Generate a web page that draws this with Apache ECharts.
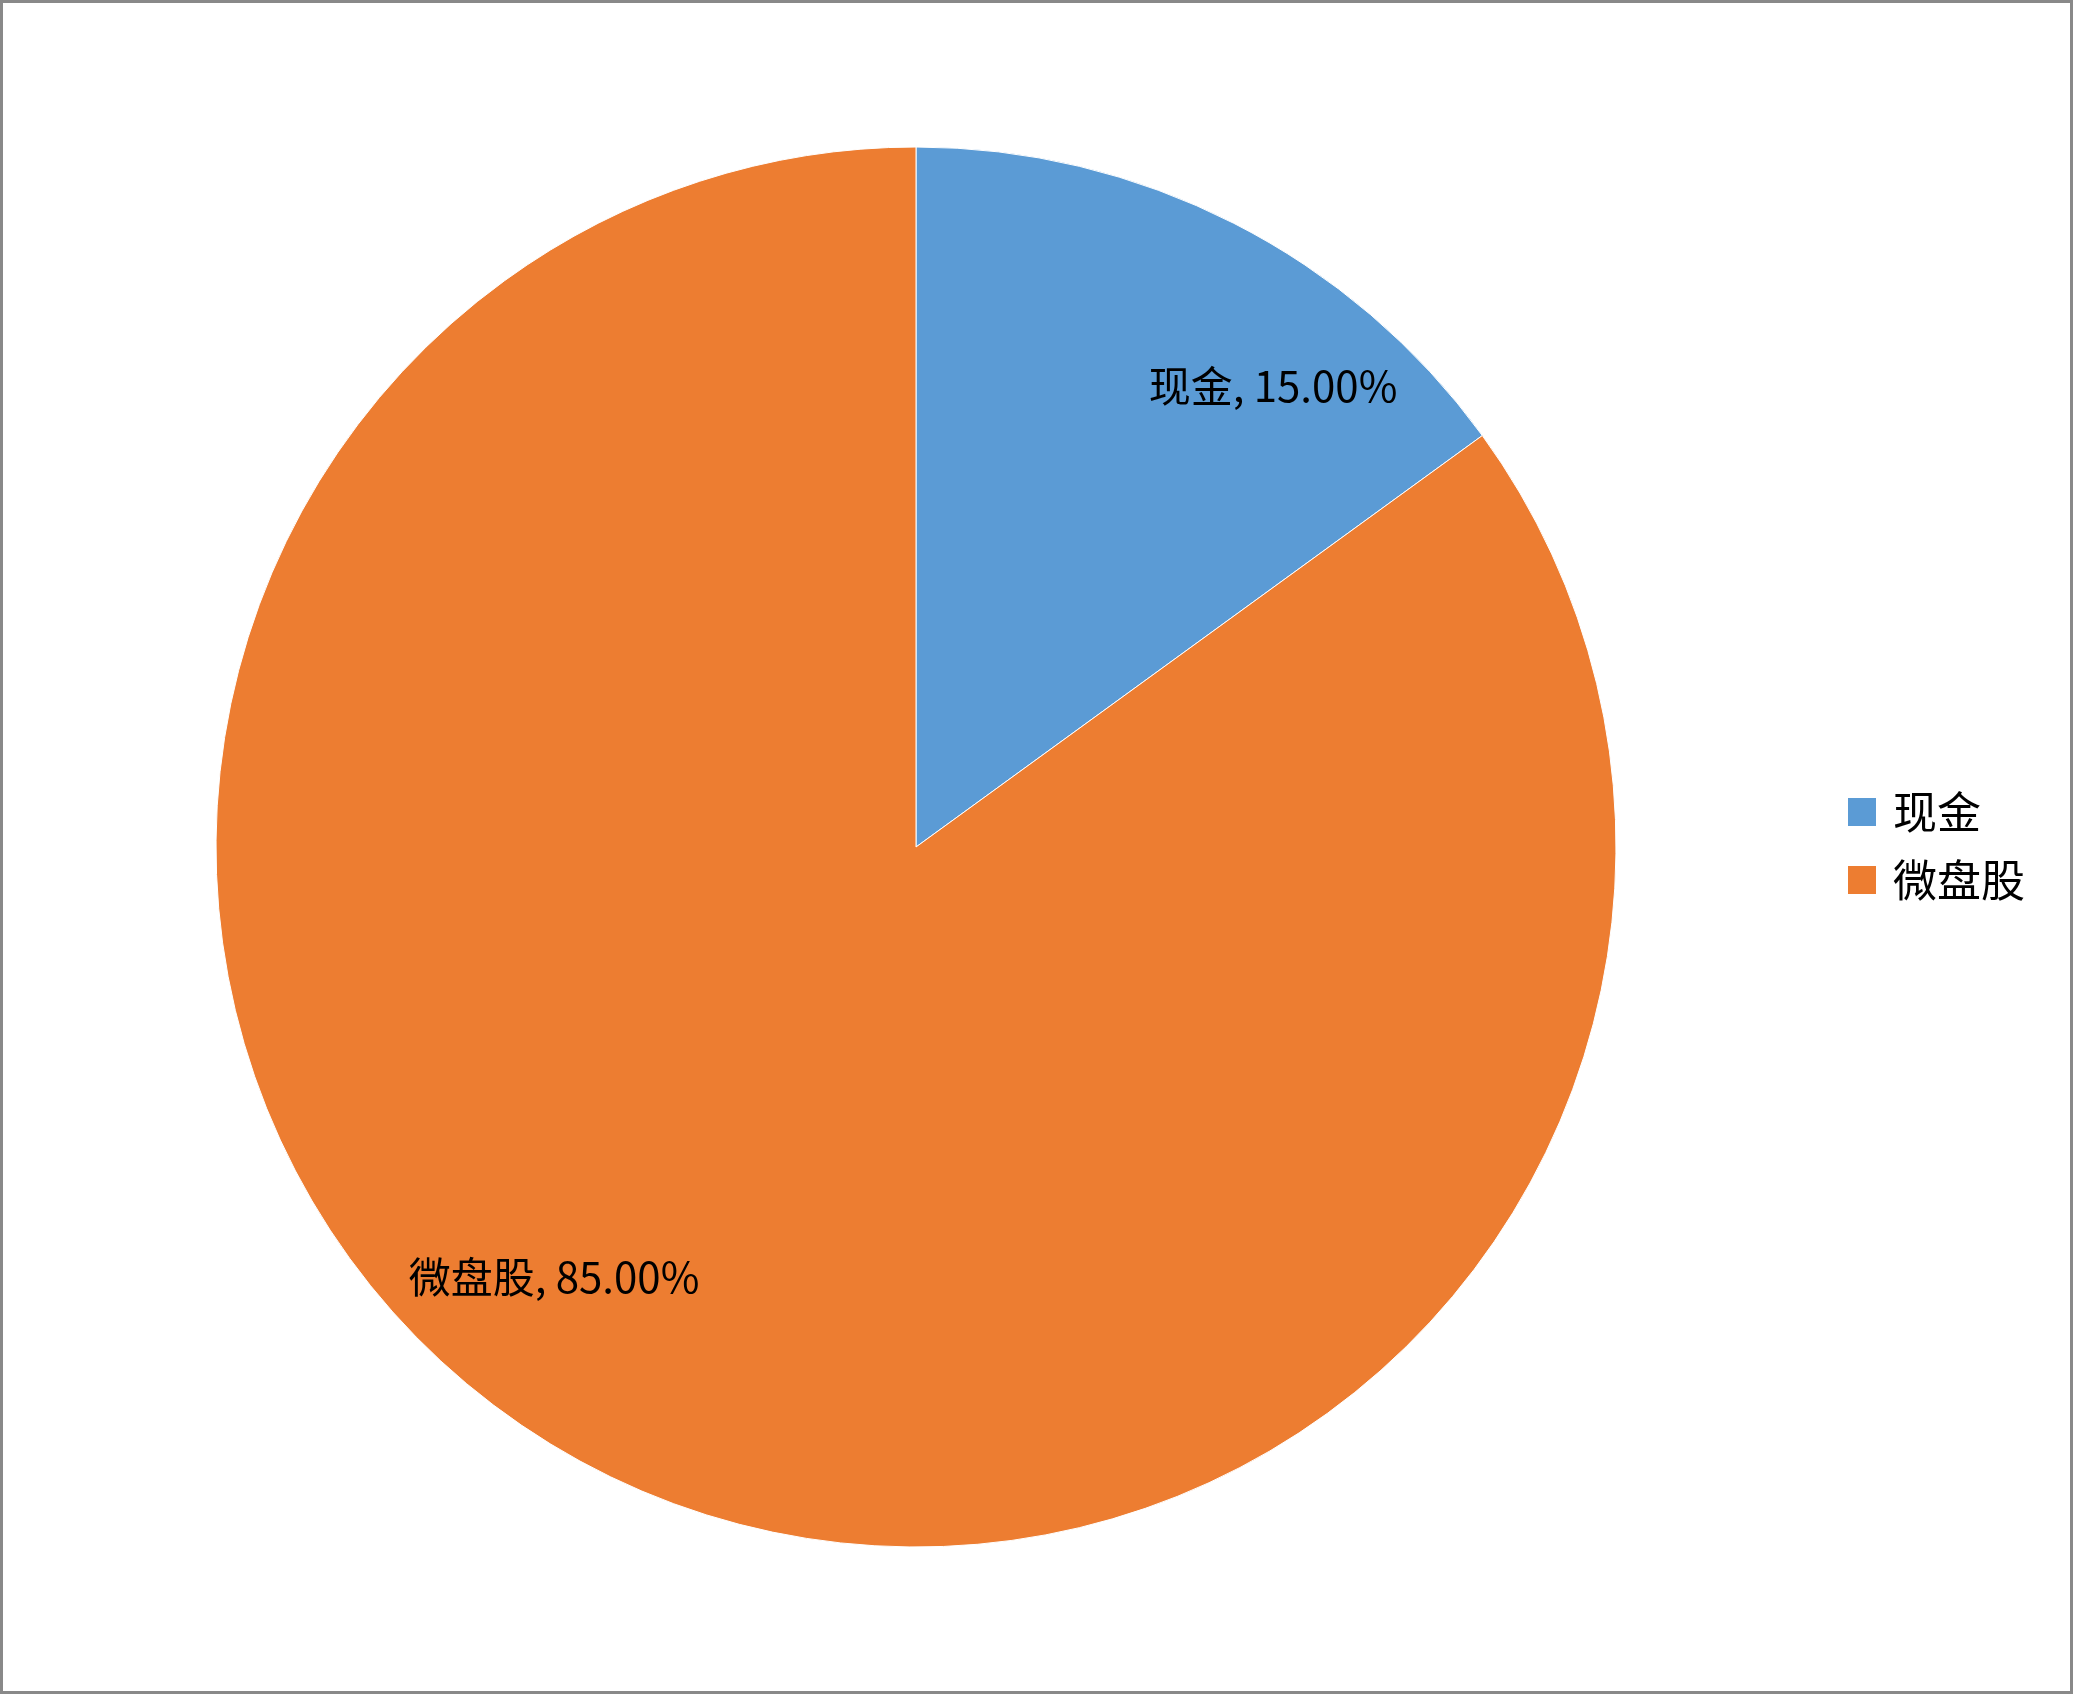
<!DOCTYPE html>
<html>
<head>
<meta charset="utf-8">
<script src="https://cdn.jsdelivr.net/npm/echarts@6/dist/echarts.min.js"></script>
<style>
html,body{margin:0;padding:0;background:#fff;}
#chart{width:2074px;height:1695px;}
</style>
</head>
<body>
<div id="chart"></div>
<script>
var categories = ['现金', '微盘股'];
var values = [15, 85];
var colors = ['#5B9BD5', '#ED7D31'];

var labelPos = [[1273, 386], [554, 1277]];

var chart = echarts.init(document.getElementById('chart'));
var fontFam = '"Noto Sans CJK SC", "Open Sans", sans-serif';
chart.setOption({
  animation: false,
  backgroundColor: '#fff',
  color: colors,
  graphic: [{
    type: 'rect',
    shape: {x: 1.5, y: 1.5, width: 2070, height: 1691},
    style: {fill: 'none', stroke: '#898989', lineWidth: 3},
    silent: true
  }],
  legend: {
    orient: 'vertical',
    left: 1841,
    top: 785,
    itemWidth: 30,
    itemHeight: 30,
    itemGap: 24,
    icon: 'rect',
    textStyle: {fontSize: 44, color: '#000', fontFamily: fontFam, padding: [0, 0, 0, 11]},
    data: categories
  },
  series: [{
    type: 'pie',
    center: [916, 847],
    radius: 700,
    startAngle: 90,
    clockwise: true,
    itemStyle: {borderColor: '#ffffff', borderWidth: 1},
    label: {
      show: true,
      position: 'inside',
      fontSize: 42,
      color: '#000',
      fontFamily: fontFam,
      formatter: function (p) { return p.name + ', ' + p.percent.toFixed(2) + '%'; }
    },
    labelLine: {show: false},
    labelLayout: function (p) {
      var pos = labelPos[p.dataIndex];
      return {x: pos[0], y: pos[1], align: 'center', verticalAlign: 'middle'};
    },
    emphasis: {disabled: true},
    data: categories.map(function (c, i) { return {name: c, value: values[i]}; })
  }]
});
</script>
</body>
</html>
